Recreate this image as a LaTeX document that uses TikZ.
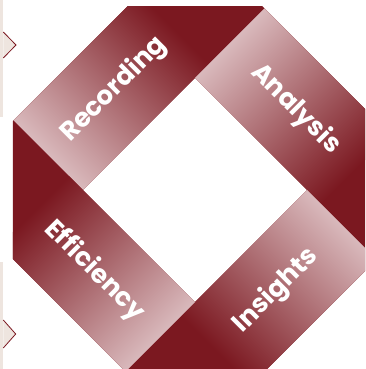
\documentclass[tikz,border=0pt]{standalone}
\usepackage{fontspec}
\setmainfont{Poppins}
\begin{document}
\begin{tikzpicture}[x=1pt,y=1pt]
  \definecolor{ribbonlight}{HTML}{D9B9BC}
  \definecolor{ribbondark}{HTML}{7B1820}
  \definecolor{panel}{HTML}{EEE5DF}
  \tikzset{
    bandtext/.style={text=white,inner sep=0pt,
      font=\bfseries\fontsize{26}{26}\selectfont},
    sidepanel/.style={fill=panel},
    chevron/.style={fill=panel}
  }
  % inner square half-width a, outer half-width b (in the 45-degree frame)
  \def\a{79.2}
  \def\b{177.5}
  \def\g{99}
  \useasboundingbox (-195,-179) rectangle (170,190);
  \clip (-195,-179) rectangle (170,190);

  % side panels with chevrons
  \fill[sidepanel] (-195,190) rectangle (-191.7,73);
  \fill[sidepanel] (-195,-72) rectangle (-191.7,-179);
  \fill[chevron] (-191.7,158) -- (-179,145) -- (-191.7,132) -- cycle;
  \draw[ribbondark,line width=0.8pt] (-191.7,158) -- (-179,145) -- (-191.7,132);
  \fill[chevron] (-191.7,-130) -- (-179.3,-144) -- (-191.7,-158) -- cycle;
  \draw[ribbondark,line width=0.8pt] (-191.7,-130) -- (-179.3,-144) -- (-191.7,-158);

  % the ring of four folded bands
  \begin{scope}
    \clip (-182,-183) rectangle (182,183);
    \begin{scope}[transform canvas={rotate=45}]
      % Recording
      \fill[ribbondark] (-\a,\a) rectangle (\b,\b);
      \shade[left color=ribbonlight,right color=ribbondark] (-\a,\a) rectangle (\g,\b);
      % Analysis
      \fill[ribbondark] (\a,-\b) rectangle (\b,\a);
      \shade[top color=ribbonlight,bottom color=ribbondark] (\a,-\g) rectangle (\b,\a);
      % Insights
      \fill[ribbondark] (-\b,-\b) rectangle (\a,-\a);
      \shade[left color=ribbondark,right color=ribbonlight] (-\g,-\b) rectangle (\a,-\a);
      % Efficiency
      \fill[ribbondark] (-\b,-\a) rectangle (-\a,\b);
      \shade[bottom color=ribbonlight,top color=ribbondark] (-\b,-\a) rectangle (-\a,\g);
    \end{scope}
  \end{scope}

  % band labels
  \node[bandtext,rotate=45]  (recording)  at (-80.9,100.7) {Recording};
  \node[bandtext,rotate=-45] (analysis)   at (100.7,80.9)  {Analysis};
  \node[bandtext,rotate=45]  (insights)   at (80.9,-100.7) {Insights};
  \node[bandtext,rotate=-45] (efficiency) at (-100.7,-80.9) {Efficiency};
\end{tikzpicture}
\end{document}
